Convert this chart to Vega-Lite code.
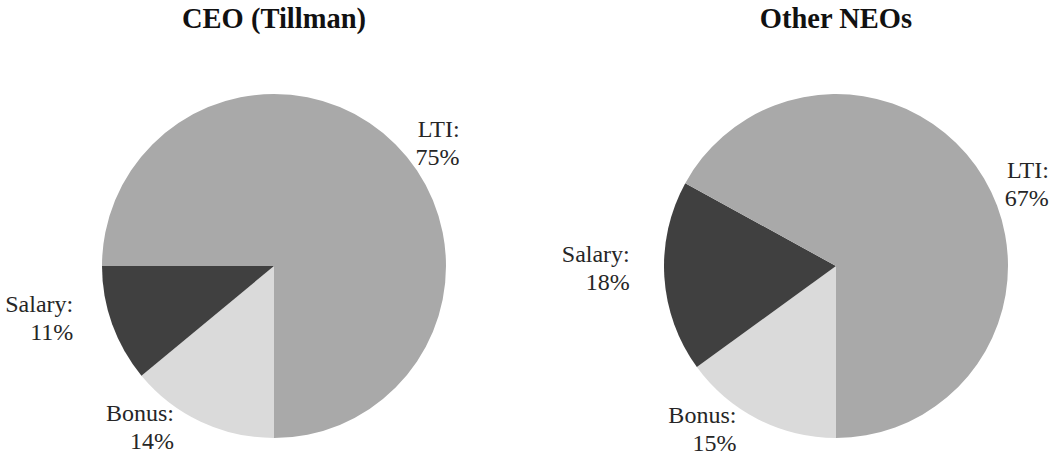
{
  "$schema": "https://vega.github.io/schema/vega-lite/v6.json",
  "autosize": {"type": "pad"},
  "padding": {"left": 5, "top": 4, "right": 0, "bottom": 0},
  "bounds": "flush",
  "spacing": 124,
  "background": "white",
  "data": {
    "values": [
      {"chart": "CEO (Tillman)", "category": "Bonus", "value": 14},
      {"chart": "CEO (Tillman)", "category": "Salary", "value": 11},
      {"chart": "CEO (Tillman)", "category": "LTI", "value": 75},
      {"chart": "Other NEOs", "category": "Bonus", "value": 15},
      {"chart": "Other NEOs", "category": "Salary", "value": 18},
      {"chart": "Other NEOs", "category": "LTI", "value": 67}
    ]
  },
  "transform": [
    {"calculate": "indexof(['Bonus','Salary','LTI'], datum.category)", "as": "k"},
    {"calculate": "datum.category + ':\\n' + datum.value + '%'", "as": "label"},
    {"stack": "value", "groupby": ["chart"], "sort": [{"field": "k", "order": "ascending"}], "as": ["s0", "s1"]},
    {"calculate": "(datum.s0 + datum.s1) / 2", "as": "mid"}
  ],
  "config": {
    "view": {"stroke": null},
    "title": {"font": "Liberation Serif", "fontSize": 28.5, "fontWeight": "bold", "color": "#111111", "baseline": "alphabetic", "offset": 61, "anchor": "middle", "frame": "group"}
  },
  "hconcat": [
    {
      "title": "CEO (Tillman)",
      "width": 438,
      "height": 344,
      "transform": [{"filter": "datum.chart === 'CEO (Tillman)'"}],
      "layer": [
        {
          "mark": {"type": "arc", "outerRadius": 172},
          "encoding": {
            "theta": {"field": "s0", "type": "quantitative", "stack": null, "scale": {"domain": [0, 100], "range": [3.14159, 9.42478]}},
            "theta2": {"field": "s1"},
            "color": {"field": "category", "type": "nominal", "legend": null,
              "scale": {"domain": ["Bonus", "Salary", "LTI"], "range": ["#dadada", "#404040", "#a9a9a9"]}}
          }
        },
        {
          "mark": {"type": "text", "align": "right", "baseline": "middle", "font": "Liberation Serif", "fontSize": 24, "lineHeight": 28, "lineBreak": "\n", "color": "#262626"},
          "encoding": {
            "theta": {"field": "mid", "type": "quantitative", "stack": null, "scale": {"domain": [0, 100], "range": [3.2952, 9.5784]}},
            "radius": {"field": "category", "type": "nominal", "scale": {"type": "point", "domain": ["Bonus", "Salary", "LTI"], "range": [179, 230], "padding": 0}},
            "text": {"field": "label", "type": "nominal"}
          }
        }
      ],
      "resolve": {"scale": {"theta": "independent", "radius": "independent"}}
    },
    {
      "title": "Other NEOs",
      "width": 438,
      "height": 344,
      "transform": [{"filter": "datum.chart === 'Other NEOs'"}],
      "layer": [
        {
          "mark": {"type": "arc", "outerRadius": 172},
          "encoding": {
            "theta": {"field": "s0", "type": "quantitative", "stack": null, "scale": {"domain": [0, 100], "range": [3.14159, 9.42478]}},
            "theta2": {"field": "s1"},
            "color": {"field": "category", "type": "nominal", "legend": null,
              "scale": {"domain": ["Bonus", "Salary", "LTI"], "range": ["#dadada", "#404040", "#a9a9a9"]}}
          }
        },
        {
          "mark": {"type": "text", "align": "right", "baseline": "middle", "font": "Liberation Serif", "fontSize": 24, "lineHeight": 28, "lineBreak": "\n", "color": "#262626"},
          "encoding": {
            "theta": {"field": "mid", "type": "quantitative", "stack": null, "scale": {"domain": [0, 100], "range": [3.2568, 9.5400]}},
            "radius": {"field": "category", "type": "nominal", "scale": {"type": "point", "domain": ["Bonus", "Salary", "LTI"], "range": [180, 233], "padding": 0}},
            "text": {"field": "label", "type": "nominal"}
          }
        }
      ],
      "resolve": {"scale": {"theta": "independent", "radius": "independent"}}
    }
  ]
}
